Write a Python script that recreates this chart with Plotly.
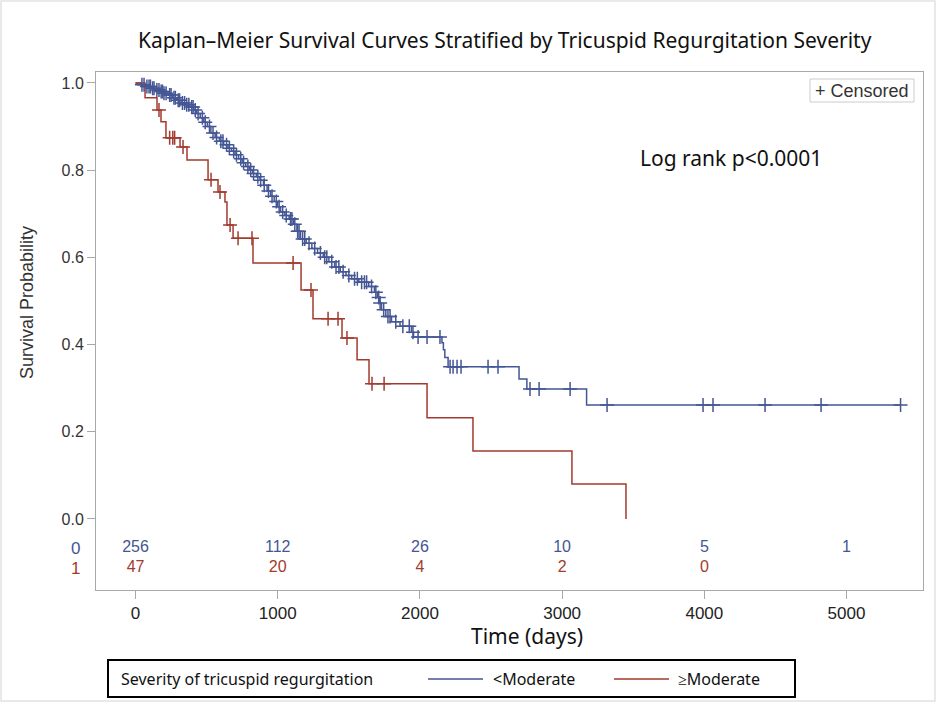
import numpy as np
import plotly.graph_objects as go

# ---------------- data ----------------
# <Moderate (group 0): event times (days) and survival after each step
blue_t = [0, 40, 70, 110, 140, 170, 200, 230, 260, 290, 320, 350, 380, 410, 430,
          455, 480, 505, 530, 560, 590, 620, 650, 675, 700, 725, 750, 775, 800,
          825, 850, 875, 900, 925, 950, 975, 1000, 1020, 1050, 1080, 1110, 1135,
          1160, 1200, 1240, 1280, 1320, 1360, 1400, 1440, 1480, 1520, 1570, 1640,
          1680, 1700, 1715, 1730, 1760, 1800, 1860, 1940, 1955, 2155, 2165, 2175,
          2198, 2697, 2752, 3172]
blue_s = [1.0, 0.996, 0.992, 0.988, 0.984, 0.980, 0.976, 0.972, 0.966, 0.960,
          0.954, 0.950, 0.945, 0.938, 0.930, 0.920, 0.910, 0.900, 0.885, 0.875,
          0.866, 0.858, 0.850, 0.843, 0.835, 0.826, 0.817, 0.808, 0.800, 0.792,
          0.785, 0.777, 0.765, 0.752, 0.740, 0.728, 0.716, 0.704, 0.696, 0.688,
          0.676, 0.660, 0.642, 0.632, 0.620, 0.610, 0.600, 0.590, 0.578, 0.567,
          0.558, 0.551, 0.543, 0.533, 0.520, 0.508, 0.495, 0.480, 0.464, 0.452,
          0.442, 0.428, 0.417, 0.404, 0.388, 0.370, 0.349, 0.321, 0.298, 0.261]
blue_cens = [45, 60, 80, 95, 105, 120, 130, 150, 165, 180, 190, 200, 215, 240, 250,
             270, 280, 300, 310, 330, 345, 360, 375, 395, 405, 420, 440, 470, 490,
             520, 545, 570, 600, 615, 640, 660, 690, 710, 740, 760, 790, 810, 830,
             860, 880, 905, 935, 960, 990, 1010, 1035, 1060, 1090, 1100, 1120, 1140,
             1150, 1175, 1190, 1220, 1260, 1300, 1330, 1345, 1380, 1410, 1430, 1460,
             1500, 1540, 1560, 1590, 1610, 1625, 1660, 1690, 1710, 1720, 1745, 1775,
             1790, 1830, 1880, 1925, 1951, 1987, 2050, 2141, 2212, 2233, 2261, 2289,
             2479, 2549, 2774, 2838, 3056, 3316, 3991, 4061, 4427, 4821, 5380]

# >=Moderate (group 1)
red_t = [0, 67, 151, 179, 214, 313, 362, 510, 580, 629, 643, 686, 826, 1164, 1248,
         1452, 1558, 1642, 2050, 2373, 3069, 3449]
red_s = [1.0, 0.966, 0.938, 0.911, 0.874, 0.853, 0.823, 0.778, 0.750, 0.727, 0.674,
         0.644, 0.587, 0.525, 0.459, 0.415, 0.365, 0.310, 0.232, 0.156, 0.080, 0.0]
red_cens = [165, 240, 262, 275, 334, 531, 594, 665, 721, 819, 1108, 1234, 1354,
            1424, 1487, 1663, 1748]

risk_times = [0, 1000, 2000, 3000, 4000, 5000]
risk_blue = [256, 112, 26, 10, 5, 1]
risk_red = [47, 20, 4, 2, 0]

x_ticks = [0, 1000, 2000, 3000, 4000, 5000]
y_ticks = [0.0, 0.2, 0.4, 0.6, 0.8, 1.0]

BLUE = "#445694"
RED = "#A23A2E"
NARROW = "Liberation Sans Narrow, Liberation Sans"


def step_at(times, surv, c):
    idx = np.searchsorted(np.array(times), c, side="right") - 1
    return float(surv[idx])


fig = go.Figure()

# step curves
bx = blue_t + [blue_cens[-1]]
by = blue_s + [blue_s[-1]]
fig.add_trace(go.Scatter(x=bx, y=by, mode="lines", line=dict(color=BLUE, width=1.5, shape="hv"),
                         showlegend=False, hoverinfo="skip"))
fig.add_trace(go.Scatter(x=red_t, y=red_s, mode="lines", line=dict(color=RED, width=1.5, shape="hv"),
                         showlegend=False, hoverinfo="skip"))

# censor marks
fig.add_trace(go.Scatter(x=blue_cens, y=[step_at(blue_t, blue_s, c) for c in blue_cens],
                         mode="markers",
                         marker=dict(symbol="cross-thin", size=10, line=dict(color=BLUE, width=1.5)),
                         showlegend=False, hoverinfo="skip"))
fig.add_trace(go.Scatter(x=red_cens, y=[step_at(red_t, red_s, c) for c in red_cens],
                         mode="markers",
                         marker=dict(symbol="cross-thin", size=10, line=dict(color=RED, width=1.5)),
                         showlegend=False, hoverinfo="skip"))

# at-risk numbers
fig.add_trace(go.Scatter(x=risk_times, y=[-0.066] * len(risk_blue), mode="text",
                         text=[str(v) for v in risk_blue],
                         textfont=dict(family=NARROW, size=16, color=BLUE),
                         showlegend=False, hoverinfo="skip"))
fig.add_trace(go.Scatter(x=risk_times[:len(risk_red)], y=[-0.112] * len(risk_red), mode="text",
                         text=[str(v) for v in risk_red],
                         textfont=dict(family=NARROW, size=16, color=RED),
                         showlegend=False, hoverinfo="skip"))

W, H = 936, 702
L, R, T, B = 96, 923, 72, 590


def px(x):
    return (x - L) / (R - L)


def py(y):
    return (B - y) / (B - T)


def note(text, x, y, size, family="Noto Sans", color="#111111", xanchor="center", angle=0):
    return dict(text=text, x=px(x), y=py(y), xref="paper", yref="paper", showarrow=False,
                xanchor=xanchor, yanchor="middle", textangle=angle,
                font=dict(family=family, size=size, color=color))


ann = [
    note("Kaplan–Meier Survival Curves Stratified by Tricuspid Regurgitation Severity", 505, 40, 21),
    note("Log rank p<0.0001", 731, 158, 21),
    note("+ Censored", 862, 90.5, 18, family="Liberation Sans", color="#333333"),
    note("Survival Probability", 27, 303, 18, family="Liberation Sans", color="#333333", angle=-90),
    note("Time (days)", 527, 636, 21),
    note("0", 75, 548, 17, family="Liberation Sans", color=BLUE),
    note("1", 75, 568, 17, family="Liberation Sans", color=RED),
    note("Severity of tricuspid regurgitation", 119, 679, 16, xanchor="left"),
    note("<Moderate", 491, 679, 16, xanchor="left"),
    note("≥Moderate", 676, 679, 16, xanchor="left"),
]

shapes = [
    dict(type="rect", xref="paper", yref="paper", x0=px(810), x1=px(914), y0=py(102), y1=py(79),
         line=dict(color="#CCCCCC", width=1), fillcolor="white", layer="below"),
    dict(type="rect", xref="paper", yref="paper", x0=px(108), x1=px(795), y0=py(697), y1=py(660),
         line=dict(color="#000000", width=2)),
    dict(type="line", xref="paper", yref="paper", x0=px(428), x1=px(483), y0=py(679), y1=py(679),
         line=dict(color=BLUE, width=1.5)),
    dict(type="line", xref="paper", yref="paper", x0=px(614), x1=px(669), y0=py(679), y1=py(679),
         line=dict(color=RED, width=1.5)),
    dict(type="rect", xref="paper", yref="paper", x0=px(1), x1=px(935), y0=py(701), y1=py(1),
         line=dict(color="#E2E2E2", width=1.5)),
]

x0 = -278
x1 = x0 + (R - L) / 0.1422
fig.update_layout(
    width=W, height=H,
    margin=dict(l=L, r=W - R, t=T, b=H - B),
    paper_bgcolor="white", plot_bgcolor="white",
    annotations=ann, shapes=shapes,
    xaxis=dict(range=[x0, x1], tickvals=x_ticks, ticktext=[str(v) for v in x_ticks],
               showgrid=False, zeroline=False, showline=True, mirror=True,
               linecolor="#A8A8A8", linewidth=1, ticks="outside", ticklen=8, tickcolor="#A8A8A8",
               tickfont=dict(family=NARROW, size=17, color="#222222")),
    yaxis=dict(range=[-0.163, 1.025], tickvals=y_ticks, ticktext=["%.1f" % v for v in y_ticks],
               showgrid=False, zeroline=False, showline=True, mirror=True,
               linecolor="#A8A8A8", linewidth=1, ticks="outside", ticklen=8, tickcolor="#A8A8A8",
               tickfont=dict(family="Liberation Sans", size=16, color="#333333")),
)

fig.write_html("out.html", config={"displayModeBar": False},
               post_script="document.body.style.margin='0px';")
